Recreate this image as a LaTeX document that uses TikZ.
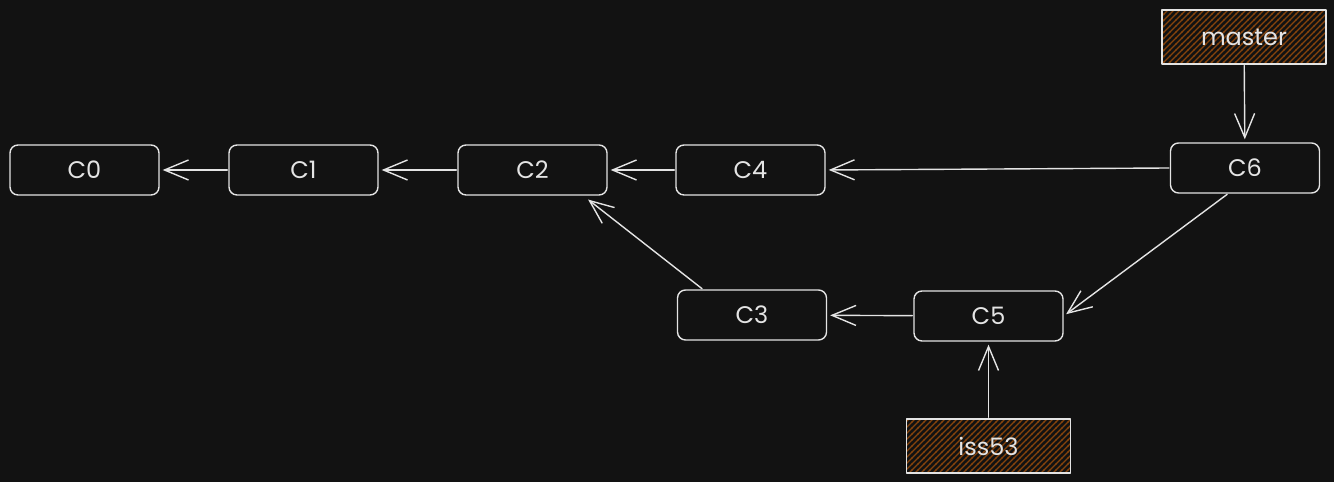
\documentclass[tikz,border=0pt]{standalone}
\usepackage{fontspec}
\setmainfont{Poppins}
\usepackage{tikz}
\usetikzlibrary{arrows.meta}
\usetikzlibrary{patterns}
\usetikzlibrary{positioning}
\definecolor{bgcol}{RGB}{18,18,18}
\definecolor{strokecol}{RGB}{228,228,228}
\definecolor{hatchcol}{RGB}{135,68,12}
\pgfdeclarepatternformonly{wide hatch}{\pgfqpoint{-1bp}{-1bp}}{\pgfqpoint{7bp}{7bp}}{\pgfqpoint{6bp}{6bp}}
  {\pgfsetlinewidth{1.3bp}\pgfpathmoveto{\pgfqpoint{-0.5bp}{-0.5bp}}\pgfpathlineto{\pgfqpoint{6.5bp}{6.5bp}}\pgfusepath{stroke}}
\tikzset{>={Straight Barb[length=24bp,width=20bp]},
  commit/.style={draw=strokecol, line width=1.4bp, rounded corners=8bp, minimum width=149bp, minimum height=50bp,
    text=strokecol, font=\fontsize{24bp}{28bp}\selectfont},
  branch/.style={draw=strokecol, line width=1.4bp, pattern=wide hatch, pattern color=hatchcol,
    minimum width=164bp, minimum height=54bp, text=strokecol, font=\fontsize{24bp}{28bp}\selectfont},
  link/.style={->, draw=strokecol, line width=1.4bp, shorten >=3bp, shorten <=1bp}}

\begin{document}
\begin{tikzpicture}[x=1bp,y=1bp,line join=round,line cap=round]
\fill[bgcol] (0,0) rectangle (1334,482);
\useasboundingbox (0,0) rectangle (1334,482);
%% commits
  \node (c0) at (84.5bp,312.0bp) [commit] {C0};
  \node (c1) at (303.5bp,312.0bp) [commit] {C1};
  \node (c2) at (532.5bp,312.0bp) [commit] {C2};
  \node (c4) at (750.5bp,312.0bp) [commit] {C4};
  \node (c6) at (1245.0bp,314.0bp) [commit] {C6};
  \node (c3) at (752.0bp,167.0bp) [commit] {C3};
  \node (c5) at (988.5bp,166.0bp) [commit] {C5};
%% branches
  \node (master) at (1244.0bp,445.0bp) [branch] {master};
  \node (iss53) at (988.5bp,36.0bp) [branch] {iss53};
%% parents
  \draw [link] (c1) -- (c0);
  \draw [link] (c2) -- (c1);
  \draw [link] (c4) -- (c2);
  \draw [link] (c6.west) -- (c4.east);
  \draw [link] ([xshift=26bp]c3.north west) -- ([xshift=-22bp,yshift=-2bp]c2.south east);
  \draw [link] ([xshift=-17bp]c6.south) -- (c5.east);
  \draw [link] (c5) -- (c3);
  \draw [link] (master) -- (c6);
  \draw [link] (iss53) -- (c5);
%
\end{tikzpicture}
\end{document}
